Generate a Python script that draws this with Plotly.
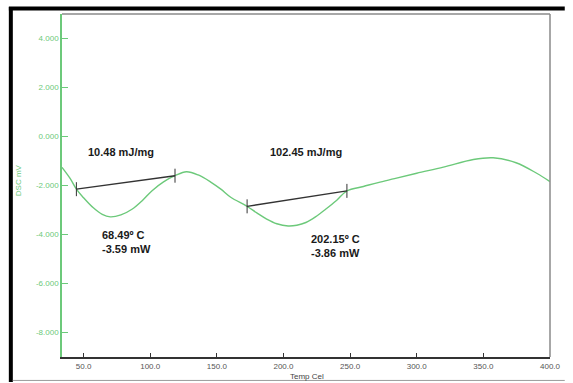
import plotly.graph_objects as go

# DSC trace: temperature (°C) vs DSC signal (mV)
temp = [33.8, 40, 44.6, 50, 57.1, 64, 70, 78, 86.6, 94, 101.4, 110, 118.6, 127.2,
        136, 145.7, 153, 160.4, 172.7, 180, 187.4, 195, 203.5, 210, 216.8, 224,
        231.6, 240, 247.6, 260, 271, 283.3, 300, 320, 342.5, 357.3, 374.5, 390, 400]
dsc = [-1.26, -1.72, -2.15, -2.50, -2.90, -3.18, -3.28, -3.20, -2.96, -2.62, -2.21,
       -1.85, -1.60, -1.44, -1.57, -1.87, -2.15, -2.48, -2.85, -3.12, -3.37, -3.56,
       -3.65, -3.62, -3.51, -3.28, -2.97, -2.60, -2.22, -2.04, -1.88, -1.72, -1.50,
       -1.25, -0.94, -0.87, -1.07, -1.50, -1.84]

# Integration baselines for the two endothermic peaks
base1_t = [44.6, 118.6]
base1_v = [-2.15, -1.60]
base2_t = [172.7, 247.6]
base2_v = [-2.85, -2.22]

# Peak annotations: (temperature, value, text)
enthalpy_labels = [(78, -0.65, "10.48 mJ/mg"), (217, -0.65, "102.45 mJ/mg")]
peak_labels = [(62, -4.3, "68.49º C<br>-3.59 mW"), (219, -4.45, "202.15º C<br>-3.86 mW")]

x_ticks = [50, 100, 150, 200, 250, 300, 350, 400]
x_tick_text = ["50.0", "100.0", "150.0", "200.0", "250.0", "300.0", "350.0", "400.0"]
y_ticks = [4, 2, 0, -2, -4, -6, -8]
y_tick_text = ["4.000", "2.000", "0.000", "-2.000", "-4.000", "-6.000", "-8.000"]

GREEN = "#6cc97a"
FONT = "Liberation Sans"

fig = go.Figure()
fig.add_trace(go.Scatter(x=temp, y=dsc, mode="lines", line=dict(color=GREEN, width=1.4, shape="spline"),
                         hoverinfo="skip"))
for bt, bv in [(base1_t, base1_v), (base2_t, base2_v)]:
    fig.add_trace(go.Scatter(x=bt, y=bv, mode="lines+markers",
                             line=dict(color="#333333", width=1.4),
                             marker=dict(symbol="line-ns", size=10, line=dict(color="#333333", width=1)),
                             hoverinfo="skip"))

annotations = []
for t, v, txt in enthalpy_labels:
    annotations.append(dict(x=t, y=v, text="<b>" + txt + "</b>", showarrow=False, xanchor="center",
                            font=dict(family=FONT, size=11, color="#1a1a1a")))
for t, v, txt in peak_labels:
    annotations.append(dict(x=t, y=v, text="<b>" + txt.replace("<br>", "</b><br><b>") + "</b>",
                            showarrow=False, xanchor="left", align="left",
                            font=dict(family=FONT, size=11, color="#1a1a1a")))
annotations.append(dict(xref="paper", yref="paper", x=(18 - 62) / 496, y=(358 - 181) / 344,
                        xanchor="center", yanchor="middle",
                        text="DSC mV", textangle=-90, showarrow=False,
                        font=dict(family=FONT, size=8, color=GREEN)))
annotations.append(dict(xref="paper", yref="paper", x=(311 - 62) / 496, y=(358 - 377.5) / 344,
                        xanchor="center", yanchor="middle",
                        text="Temp Cel", showarrow=False,
                        font=dict(family=FONT, size=8, color="#444444")))

def px_x(p):
    return (p - 62) / 496

def px_y(p):
    return (358 - p) / 344

shapes = [
    # top and right plot borders
    dict(type="line", xref="paper", yref="paper", x0=0, x1=1, y0=1, y1=1,
         line=dict(color="#8a8a8a", width=1.5)),
    dict(type="line", xref="paper", yref="paper", x0=1, x1=1, y0=0, y1=1,
         line=dict(color="#8a8a8a", width=1.5)),
    # outer frame
    dict(type="line", xref="paper", yref="paper", x0=px_x(8), x1=px_x(573), y0=px_y(8.5), y1=px_y(8.5),
         line=dict(color="#000000", width=4)),
    dict(type="line", xref="paper", yref="paper", x0=px_x(10), x1=px_x(10), y0=px_y(7), y1=px_y(383),
         line=dict(color="#000000", width=4)),
    dict(type="line", xref="paper", yref="paper", x0=px_x(12), x1=px_x(573), y0=px_y(381.5), y1=px_y(381.5),
         line=dict(color="#9a9a9a", width=1)),
]

fig.update_layout(
    width=573, height=383,
    margin=dict(l=62, r=15, t=14, b=25),
    paper_bgcolor="white", plot_bgcolor="white",
    showlegend=False,
    annotations=annotations,
    shapes=shapes,
    xaxis=dict(range=[33.8, 400], tickvals=x_ticks, ticktext=x_tick_text,
               showgrid=False, zeroline=False, showline=True, linecolor="#333333", linewidth=2,
               ticks="inside", ticklen=4, tickcolor="#333333", tickwidth=1,
               tickfont=dict(family=FONT, size=8, color="#555555")),
    yaxis=dict(range=[-9, 5], tickvals=y_ticks, ticktext=y_tick_text,
               showgrid=False, zeroline=False, showline=True, linecolor=GREEN, linewidth=1.5,
               ticks="inside", ticklen=6, tickcolor=GREEN, tickwidth=1,
               tickfont=dict(family=FONT, size=8, color=GREEN)),
)

fig.write_html("out.html")
